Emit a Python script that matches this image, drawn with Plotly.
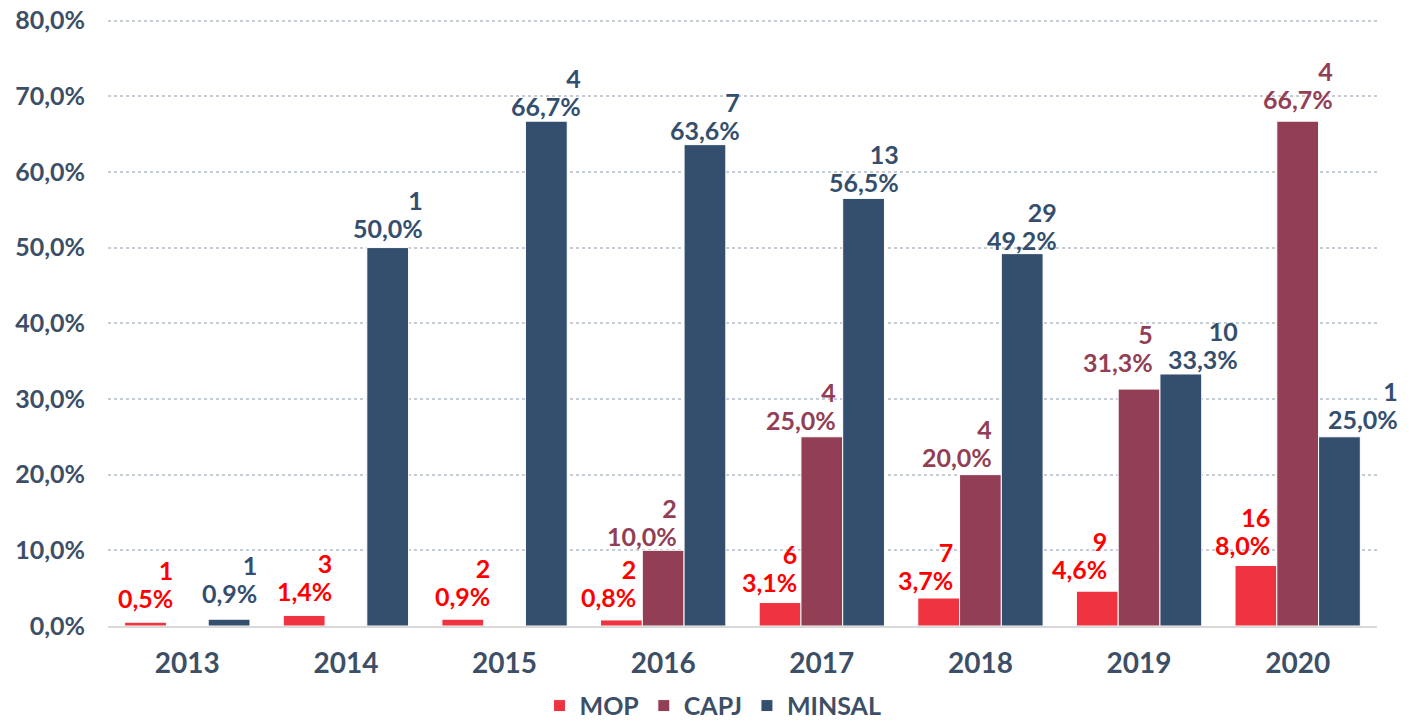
import plotly.graph_objects as go

years = ["2013", "2014", "2015", "2016", "2017", "2018", "2019", "2020"]
series_names = ["MOP", "CAPJ", "MINSAL"]
mop_pct = [0.5, 1.4, 0.9, 0.8, 3.1, 3.7, 4.6, 8.0]
mop_n = [1, 3, 2, 2, 6, 7, 9, 16]
capj_pct = [None, None, None, 10.0, 25.0, 20.0, 31.3, 66.7]
capj_n = [None, None, None, 2, 4, 4, 5, 4]
minsal_pct = [0.9, 50.0, 66.7, 63.6, 56.5, 49.2, 33.3, 25.0]
minsal_n = [1, 1, 4, 7, 13, 29, 10, 1]
y_ticks = [0, 10, 20, 30, 40, 50, 60, 70, 80]

# label placement (pixels): horizontal shift of label from bar centre, gap above bar top
label_dx = [
    [0, 0, 0, -13, -11, -13, -18, -13],
    [0, 0, 0, -21, -21, -23, -21, 0],
    [0, 0, 0, 0, 0, 0, 22, 24],
]
label_gap = [
    [14, 14, 13, 13, 11, 8, 12, 10],
    [0, 0, 0, 4, 7, 8, 17, 12],
    [16, 10, 5, 5, 6, 4, 5, 8],
]

bar_colors = ["#EF3340", "#923F55", "#344F6E"]
label_colors = ["#FF0000", "#923F55", "#344F6E"]
axis_color = "#3D4F66"
FONT = "Lato"
LBL_SIZE = 25

pcts = [mop_pct, capj_pct, minsal_pct]
counts = [mop_n, capj_n, minsal_n]

bargap = 0.21
bar_w = (1 - bargap) / 3
xs = list(range(len(years)))

fig = go.Figure()
annotations = []
for k, name in enumerate(series_names):
    fig.add_trace(go.Bar(
        x=xs, y=pcts[k], name=name,
        marker=dict(color=bar_colors[k], line=dict(color="white", width=1)),
    ))
    offset = (k - 1) * bar_w
    for i, (p, n) in enumerate(zip(pcts[k], counts[k])):
        if p is None:
            continue
        pct_txt = f"{p:.1f}%".replace(".", ",")
        lf = dict(family=FONT, size=LBL_SIZE, color=label_colors[k], weight="bold")
        base = dict(x=xs[i] + offset, y=p, xref="x", yref="y", showarrow=False,
                    xanchor="center", yanchor="bottom", borderpad=0,
                    xshift=label_dx[k][i], font=lf)
        annotations.append(dict(base, text=pct_txt, yshift=label_gap[k][i] - 6))
        annotations.append(dict(
            base, align="right", yshift=label_gap[k][i] - 6 - 5,
            text=f"{n}<br><span style='color:rgba(0,0,0,0)'>{pct_txt}</span>",
        ))

# the page body adds an 8px margin around the figure
fig.update_layout(
    width=1410, height=715,
    margin=dict(l=100, r=41, t=11, b=97),
    paper_bgcolor="white", plot_bgcolor="white",
    barmode="group", bargap=bargap, bargroupgap=0,
    font=dict(family=FONT, color=axis_color),
    showlegend=True,
    legend=dict(orientation="h", x=0.5, xanchor="center", xref="container",
                y=0.024, yanchor="middle", yref="container",
                font=dict(family=FONT, size=25, color=axis_color, weight="bold"),
                traceorder="normal"),
    annotations=annotations,
)
fig.update_xaxes(
    tickmode="array", tickvals=xs, ticktext=years, range=[-0.5, len(years) - 0.5],
    showgrid=False, zeroline=False, showline=True, linecolor="#D9D9D9", linewidth=2,
    ticks="outside", ticklen=11, tickcolor="rgba(0,0,0,0)", automargin=False,
    tickfont=dict(family=FONT, size=28, color=axis_color, weight="bold"),
)
fig.update_yaxes(
    range=[0, 80.2], tickmode="array", tickvals=y_ticks,
    ticktext=[f"{t:.1f}%".replace(".", ",") for t in y_ticks],
    showgrid=True, gridcolor="#C5CCD6", griddash="dot", gridwidth=1.5,
    zeroline=False, showline=False, automargin=False, ticklabeloverflow="allow",
    ticks="outside", ticklen=17, tickcolor="rgba(0,0,0,0)",
    tickfont=dict(family=FONT, size=25, color=axis_color, weight="bold"),
)

fig.write_html("out.html")
